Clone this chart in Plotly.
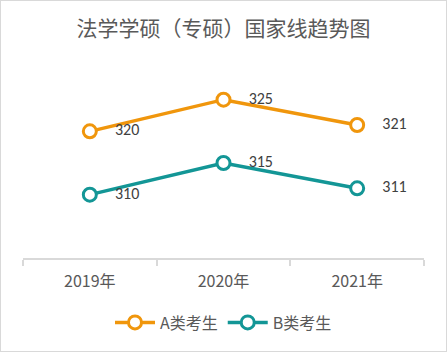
import plotly.graph_objects as go

years = ["2019年", "2020年", "2021年"]
a_vals = [320, 325, 321]
b_vals = [310, 315, 311]
series_names = ["A类考生", "B类考生"]
title = "法学学硕（专硕）国家线趋势图"

orange = "#F0960C"
teal = "#139696"

fig = go.Figure()
for name, vals, col in [(series_names[0], a_vals, orange), (series_names[1], b_vals, teal)]:
    fig.add_trace(go.Scatter(
        x=years, y=vals, name=name, mode="lines+markers+text",
        text=["\u2003" + str(v) for v in vals], textposition="middle right",
        textfont=dict(family="Carlito, Calibri, Liberation Sans, sans-serif", size=16, color="#404040"),
        line=dict(color=col, width=3.5),
        marker=dict(symbol="circle", size=13, color="white", line=dict(color=col, width=3)),
        cliponaxis=False,
    ))

fig.update_layout(
    width=447, height=352,
    margin=dict(l=23, r=23, t=68, b=94, autoexpand=False),
    paper_bgcolor="white", plot_bgcolor="white",
    title=dict(text=title, x=0.5, xanchor="center", y=0.92, yanchor="middle",
               font=dict(family="Noto Sans CJK SC", size=21, color="#595959")),
    xaxis=dict(type="category", range=[-0.5, 2.5], showline=True, linecolor="#D9D9D9", linewidth=2,
               ticks="outside", tickson="boundaries", ticklen=6, tickcolor="#D9D9D9", tickwidth=2,
               showgrid=False, ticklabelstandoff=8,
               tickfont=dict(family="Noto Sans CJK SC", size=16, color="#595959")),
    yaxis=dict(range=[300, 330], visible=False, showgrid=False, zeroline=False),
    showlegend=True,
    legend=dict(orientation="h", x=0.5, xanchor="center", y=-0.25, yanchor="top",
                font=dict(family="Noto Sans CJK SC", size=16, color="#595959"),
                itemwidth=40),
    shapes=[dict(type="rect", xref="paper", yref="paper", x0=-23/401, x1=1+23/401,
                 y0=-94/190, y1=1+68/190, line=dict(color="#D9D9D9", width=2))],
)
fig.write_html("out.html")
